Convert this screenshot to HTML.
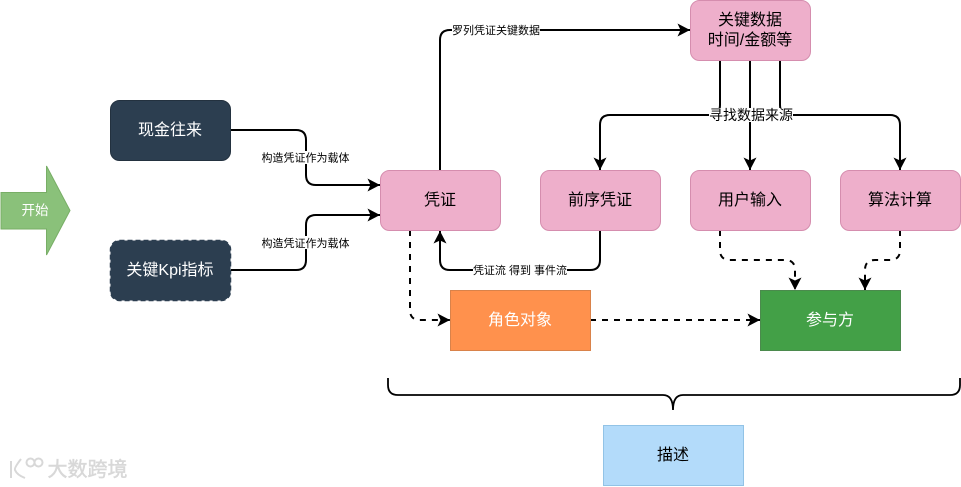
<!DOCTYPE html>
<html><head><meta charset="utf-8">
<style>
html,body{margin:0;padding:0;background:#fff;width:961px;height:487px;overflow:hidden}
svg{display:block}
text{font-family:"Liberation Sans","Noto Sans CJK SC",sans-serif;text-anchor:middle}
.l{font-size:16px}
.s{font-size:11px;fill:#000}
.c{fill:none;stroke:#000;stroke-width:2}
.d{fill:none;stroke:#000;stroke-width:2;stroke-dasharray:6 6}
.p{fill:#EEAFCB;stroke:#D58DAE;stroke-width:1}
</style></head><body>
<svg width="961" height="487" viewBox="0 0 961 487" xmlns="http://www.w3.org/2000/svg">
<defs>
<marker id="a" viewBox="0 0 14 14" refX="13.500" refY="7" markerWidth="14" markerHeight="14" markerUnits="userSpaceOnUse" orient="auto"><path d="M1 .5 L13.500 7 L1 13.500 L4 7 Z" fill="#000"/></marker>
</defs>

<!-- start arrow -->
<path d="M1 192.500 H46.500 V166 L70 210.500 L46.500 255 V229 H1 Z" fill="#8AC17A" stroke="#78AE66"/>
<text x="35" y="215" fill="#fff" style="font-size:13.500px">开始</text>

<!-- dark boxes -->
<rect x="110.500" y="100.500" width="120" height="60" rx="9" fill="#2C3E50" stroke="#23313F"/>
<text class="l" x="170" y="135" fill="#fff">现金往来</text>
<rect x="110.500" y="240.500" width="120" height="60" rx="9" fill="#2C3E50" stroke="#2C3E50" stroke-width="1.500" stroke-dasharray="5 3"/>
<text class="l" x="170" y="275" fill="#fff">关键Kpi指标</text>

<!-- solid connectors -->
<path class="c" d="M231 130 H296 Q306 130 306 140 V175 Q306 185 316 185 H380" marker-end="url(#a)"/>
<path class="c" d="M231 270 H296 Q306 270 306 260 V225 Q306 215 316 215 H380" marker-end="url(#a)"/>
<path class="c" d="M440 170 V40 Q440 30 450 30 H690" marker-end="url(#a)"/>
<path class="c" d="M720 60 V105 Q720 115 710 115 H610 Q600 115 600 125 V170" marker-end="url(#a)"/>
<path class="c" d="M750 60 V170" marker-end="url(#a)"/>
<path class="c" d="M780 60 V105 Q780 115 790 115 H890 Q900 115 900 125 V170" marker-end="url(#a)"/>
<path class="c" d="M600 230 V260 Q600 270 590 270 H450 Q440 270 440 260 V231" marker-end="url(#a)"/>

<!-- dashed connectors -->
<path class="d" d="M410 230 V310 Q410 320 420 320 H450" marker-end="url(#a)"/>
<path class="d" d="M590 320 H760" marker-end="url(#a)"/>
<path class="d" d="M720 230 V250 Q720 260 730 260 H785 Q795 260 795 270 V290" marker-end="url(#a)"/>
<path class="d" d="M900 230 V250 Q900 260 890 260 H875 Q865 260 865 270 V290" marker-end="url(#a)"/>

<!-- connector labels -->
<rect x="261" y="151" width="89" height="13" fill="#fff"/>
<text class="s" x="305.500" y="161.500">构造凭证作为载体</text>
<rect x="261" y="236" width="89" height="13" fill="#fff"/>
<text class="s" x="305.500" y="247">构造凭证作为载体</text>
<rect x="452" y="24" width="88" height="13" fill="#fff"/>
<text class="s" x="496" y="34">罗列凭证关键数据</text>
<rect x="473" y="264" width="94" height="13" fill="#fff"/>
<text class="s" x="520" y="274">凭证流 得到 事件流</text>
<rect x="709" y="108" width="84" height="14" fill="#fff"/>
<text x="751" y="120" style="font-size:14px">寻找数据来源</text>

<!-- pink boxes -->
<rect class="p" x="380.500" y="170.500" width="120" height="60" rx="9"/>
<text class="l" x="440" y="205">凭证</text>
<rect class="p" x="540.500" y="170.500" width="120" height="60" rx="9"/>
<text class="l" x="600" y="205">前序凭证</text>
<rect class="p" x="690.500" y="170.500" width="120" height="60" rx="9"/>
<text class="l" x="750" y="205">用户输入</text>
<rect class="p" x="840.500" y="170.500" width="120" height="60" rx="9"/>
<text class="l" x="900" y="205">算法计算</text>
<rect class="p" x="690.500" y="0.500" width="120" height="60" rx="9"/>
<text class="l" x="750" y="25">关键数据</text>
<text class="l" x="750" y="45">时间/金额等</text>

<!-- flat boxes -->
<rect x="450.500" y="290.500" width="140" height="60" fill="#FF914D" stroke="#D9824A"/>
<text class="l" x="520" y="325" fill="#fff">角色对象</text>
<rect x="760.500" y="290.500" width="140" height="60" fill="#43A047" stroke="#4B8A4D"/>
<text class="l" x="830" y="325" fill="#fff">参与方</text>
<rect x="603.500" y="425.500" width="140" height="60" fill="#B3DBFA" stroke="#92C3E6"/>
<text class="l" x="673" y="460">描述</text>

<!-- brace -->
<path d="M388 378 V385 Q388 395 398 395 H663 Q673 395 673 410 Q673 395 683 395 H950 Q960 395 960 385 V378" fill="none" stroke="#000" stroke-width="1.800"/>

<!-- watermark -->
<g fill="none" stroke="#d8d8d8" stroke-width="2">
<path d="M11 461 V478 M21 459 Q14 468 15 470 Q17 475 25 478"/>
<circle cx="30.500" cy="462.500" r="4"/><circle cx="38.500" cy="462.500" r="4"/>
</g>
<text x="87.500" y="476" fill="#d8d8d8" stroke="#d8d8d8" stroke-width=".5" style="font-size:20px">大数跨境</text>
</svg>
</body></html>
